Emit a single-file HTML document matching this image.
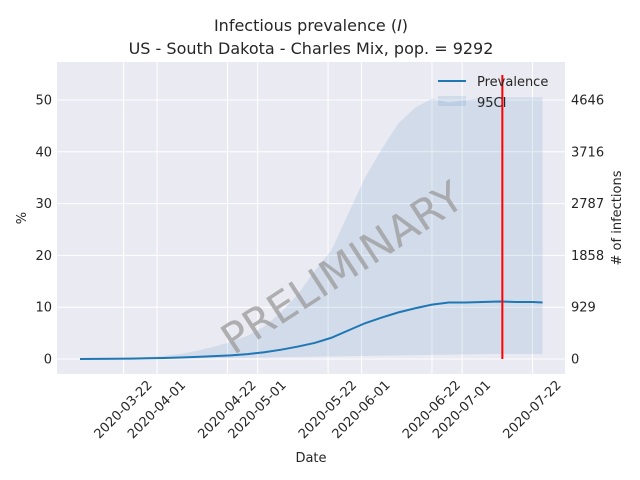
<!DOCTYPE html>
<html><head><meta charset="utf-8"><style>
body{margin:0;background:#fff}
svg{display:block;font-family:"DejaVu Sans","Liberation Sans",sans-serif}
</style></head><body>
<svg id="chart" width="640" height="480" viewBox="0 0 640 480">
<text x="311" y="31" font-size="16" text-anchor="middle" fill="#262626">Infectious prevalence (<tspan font-style="italic">I</tspan>)</text>
<text x="311" y="54" font-size="16" text-anchor="middle" fill="#262626">US - South Dakota - Charles Mix, pop. = 9292</text>
<rect x="57" y="62" width="508" height="312" fill="#eaeaf2"/>
<g id="grid"></g>
<g id="marks"></g>
<g id="axes"></g>
<text x="350" y="280" font-size="42" fill="#999" fill-opacity="0.75" text-anchor="middle" transform="rotate(-33 350 280)">PRELIMINARY</text>
<g>
<line x1="438" y1="81" x2="466" y2="81" stroke="#1f77b4" stroke-width="2"/>
<text x="477" y="86" font-size="13" fill="#262626">Prevalence</text>
<rect x="438" y="96" width="28" height="10" fill="#1f77b4" fill-opacity="0.12"/>
<text x="477" y="107" font-size="13" fill="#262626">95CI</text>
</g>
<text x="26" y="218" font-size="13" fill="#262626" text-anchor="middle" transform="rotate(-90 26 218)">%</text>
<text x="621" y="218" font-size="13" fill="#262626" text-anchor="middle" transform="rotate(-90 621 218)"># of infections</text>
<text x="311" y="462" font-size="13" fill="#262626" text-anchor="middle">Date</text>
</svg>
<script>
const dayOffsets=[0,5,10,15,20,25,30,35,40,45,50,55,60,65,70,75,80,85,90,95,100,105,110,115,120,125,130,135,138];
const prevalence=[0,0.02,0.05,0.08,0.15,0.2,0.3,0.4,0.55,0.7,0.95,1.3,1.8,2.4,3.1,4.1,5.5,6.9,8.0,9.0,9.8,10.5,10.9,10.9,11.0,11.1,11.0,11.0,10.9];
const ciUpper=[0,0.05,0.1,0.2,0.35,0.6,1.0,1.6,2.4,3.3,4.5,6.3,9,12.5,17,21,28,35,40.5,45.5,48.5,50.3,49.5,50,50.5,50.5,50.5,50.5,50.5];
const ciLower=[0,0,0,0,0,0.02,0.05,0.1,0.15,0.2,0.25,0.3,0.35,0.4,0.45,0.5,0.55,0.6,0.65,0.7,0.75,0.8,0.85,0.9,0.95,1.0,1.0,1.0,1.0];
const yTicks=[0,10,20,30,40,50];
const y2Ticks=[0,929,1858,2787,3716,4646];
const xTickLabels=["2020-03-22","2020-04-01","2020-04-22","2020-05-01","2020-05-22","2020-06-01","2020-06-22","2020-07-01","2020-07-22"];
const xTickDays=[13,23,44,53,74,84,105,114,135];
const redLineDay=126;
const population=9292;
const NS="http://www.w3.org/2000/svg";
const X=d=>80+d*3.352;
const Y=v=>359-v*5.18;
const Y2=n=>Y(n/population*100);
function mk(tag,attrs,parent,text){const e=document.createElementNS(NS,tag);for(const k in attrs)e.setAttribute(k,attrs[k]);if(text!==undefined)e.textContent=text;document.getElementById(parent).appendChild(e);return e;}
yTicks.forEach((t,i)=>{
 const g=mk('line',{x1:57,x2:565,y1:Y(t),y2:Y(t),stroke:'#fff','stroke-width':1},'grid');
 
 
 const l=mk('text',{x:52,y:Y(t)+4.5,'font-size':13,'text-anchor':'end',fill:'#262626'},'axes',String(t));
 
 
});
y2Ticks.forEach(t=>{
 const l=mk('text',{x:571,y:Y2(t)+4.5,'font-size':13,fill:'#262626'},'axes',String(t));
 
 
});
xTickDays.forEach((d,i)=>{
 const g=mk('line',{x1:X(d),x2:X(d),y1:62,y2:374,stroke:'#fff','stroke-width':1},'grid');
 
 
 const tx=X(d),ty=410;
 const l=mk('text',{x:tx,y:ty,'font-size':13,'text-anchor':'middle','dominant-baseline':'central',fill:'#262626',transform:`rotate(-45 ${tx} ${ty})`},'axes',xTickLabels[i]);
 
 
});
let area=dayOffsets.map((d,i)=>`${X(d)},${Y(ciUpper[i])}`);
for(let i=dayOffsets.length-1;i>=0;i--)area.push(`${X(dayOffsets[i])},${Y(ciLower[i])}`);
const a=mk('polygon',{points:area.join(' '),fill:'#1f77b4','fill-opacity':0.12},'marks');


const ln=mk('polyline',{points:dayOffsets.map((d,i)=>`${X(d)},${Y(prevalence[i])}`).join(' '),fill:'none',stroke:'#1f77b4','stroke-width':2},'marks');


const rl=mk('line',{x1:X(redLineDay),x2:X(redLineDay),y1:75,y2:359,stroke:'#ff0000','stroke-width':2},'marks');


</script>
</body></html>
